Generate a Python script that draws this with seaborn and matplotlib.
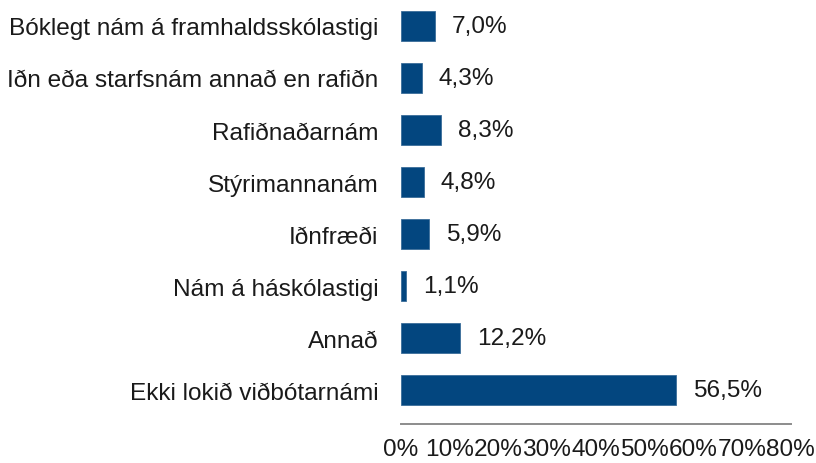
import matplotlib
matplotlib.use('Agg')
import matplotlib.pyplot as plt
import seaborn as sns
import pandas as pd
from matplotlib.ticker import PercentFormatter

categories = ['Bóklegt nám á framhaldsskólastigi', 'Iðn eða starfsnám annað en rafiðn',
              'Rafiðnaðarnám', 'Stýrimannanám', 'Iðnfræði', 'Nám á háskólastigi',
              'Annað', 'Ekki lokið viðbótarnámi']
values = [7.0, 4.3, 8.3, 4.8, 5.9, 1.1, 12.2, 56.5]
x_ticks = [0, 10, 20, 30, 40, 50, 60, 70, 80]

df = pd.DataFrame({'cat': categories, 'val': values})

sns.set_style('white')
plt.rcParams['font.family'] = ['Liberation Sans', 'DejaVu Sans']
fs = 17.6

fig = plt.figure(figsize=(8.16, 4.64), dpi=100)
ax = fig.add_axes([0.491, 0.084, 0.478, 0.914])

sns.barplot(data=df, x='val', y='cat', color='#03467f', width=0.58,
            saturation=1, ax=ax, edgecolor='#3a6d9a', linewidth=0.6)

for i, v in enumerate(values):
    ax.annotate(f'{v:.1f}%'.replace('.', ','), (v, i), xytext=(12, 0),
                textcoords='offset points', va='center', ha='left',
                fontsize=fs, color='#1a1a1a')

ax.set_xlim(0, 80)
ax.set_ylim(7.65, -0.5)
ax.set_xticks(x_ticks)
ax.xaxis.set_major_formatter(PercentFormatter(decimals=0))
ax.set_xlabel('')
ax.set_ylabel('')
ax.tick_params(axis='x', direction='in', length=5, width=1.4, color='#8c8c8c',
               labelsize=fs, pad=10, labelcolor='#1a1a1a')
ax.tick_params(axis='y', length=0, labelsize=fs, pad=16, labelcolor='#1a1a1a')
for s in ['top', 'right', 'left']:
    ax.spines[s].set_visible(False)
ax.spines['bottom'].set_color('#8c8c8c')
ax.spines['bottom'].set_linewidth(1.4)

fig.savefig('out.png', dpi=100)
